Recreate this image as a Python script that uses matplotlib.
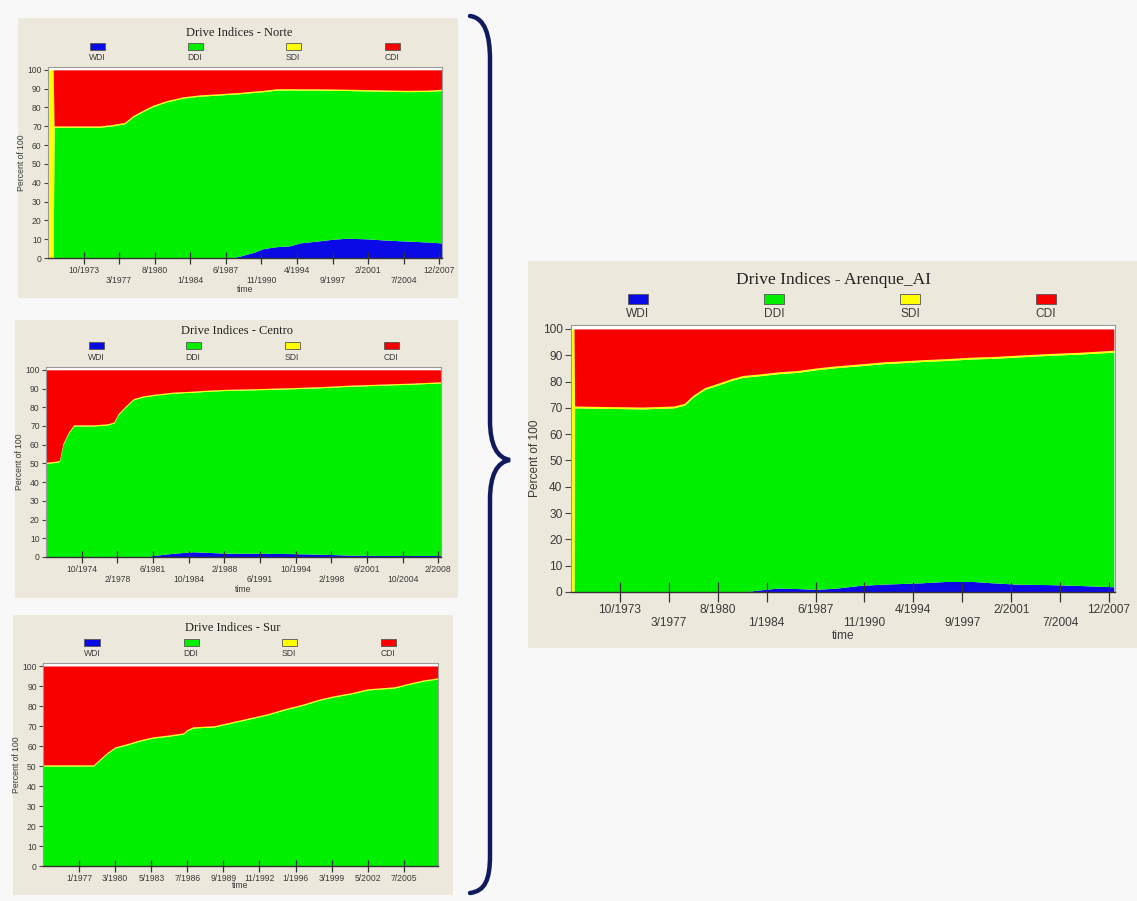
import matplotlib.pyplot as plt
from matplotlib.patches import Rectangle, PathPatch
from matplotlib.path import Path

W, H = 1137, 901

# colours and names of the four drive indices (stack order bottom -> top)
names = ['WDI', 'DDI', 'SDI', 'CDI']
colors = ['#0a0ae6', '#00f000', '#ffff00', '#f80000']
beige = '#ece9dc'
txt = '#3a3a3a'

# Norte, months since 5/1970
norte_t = [0, 6, 7, 30, 60, 75, 88, 98, 110, 121, 137, 156, 175, 194, 210,
           221, 237, 248, 263, 279, 290, 310, 329, 344, 367, 390, 413, 437, 454]
norte_wdi = [0, 0, 0, 0, 0, 0, 0, 0, 0, 0, 0, 0, 0, 0, 0,
             1, 3, 5, 6, 6.5, 8, 9, 10, 10.5, 10.2, 9.5, 9, 8.5, 8]
norte_ddi = [0, 0, 69.5, 69.5, 69.5, 70.3, 71.3, 75, 78, 80.5, 83, 85, 86, 86.5, 87,
             86.3, 85, 83.4, 83.2, 82.8, 81.2, 80.2, 79.1, 78.5, 78.6, 79.1, 79.4, 80, 81]
norte_sdi = [100, 100] + [0.7] * 27
norte_cdi = [0, 0, 29.8, 29.8, 29.8, 29.0, 28.0, 24.3, 21.3, 18.8, 16.3, 14.3, 13.3, 12.8, 12.3,
             12.0, 11.3, 10.9, 10.1, 10.0, 10.1, 10.1, 10.2, 10.3, 10.5, 10.7, 10.9, 10.8, 10.3]
norte_labels = ['10/1973', '3/1977', '8/1980', '1/1984', '6/1987', '11/1990',
                '4/1994', '9/1997', '2/2001', '7/2004', '12/2007']

# Centro, months since 6/1971
centro_t = [0, 10, 15, 19, 25, 31, 53, 68, 76, 81, 89, 98, 109,
            124, 143, 165, 180, 203, 240, 277, 307, 341, 378, 410, 443]
centro_wdi = [0, 0, 0, 0, 0, 0, 0, 0, 0, 0, 0, 0, 0,
              1, 2, 2.8, 2.5, 2, 2, 1.8, 1.5, 1, 0.8, 0.8, 0.8]
centro_ddi = [50, 50.5, 51, 60, 66, 70, 70, 70.5, 71.5, 76, 80, 84, 85.5,
              85.5, 85.5, 85.2, 86, 87, 87.4, 88.1, 88.9, 90.2, 91, 91.5, 92.2]
centro_sdi = [0.6] * 25
centro_cdi = [49.4, 48.9, 48.4, 39.4, 33.4, 29.4, 29.4, 28.9, 27.9, 23.4, 19.4, 15.4, 13.9,
              12.9, 11.9, 11.4, 10.9, 10.4, 10.0, 9.5, 9.0, 8.2, 7.6, 7.1, 6.4]
centro_labels = ['10/1974', '2/1978', '6/1981', '10/1984', '2/1988', '6/1991',
                 '10/1994', '2/1998', '6/2001', '10/2004', '2/2008']

# Sur, months since 11/1973
sur_t = [0, 53, 60, 67, 76, 88, 102, 116, 134, 148, 151, 158, 180,
         194, 222, 236, 254, 271, 292, 306, 324, 342, 370, 387, 401, 416]
sur_wdi = [0] * 26
sur_ddi = [50, 50, 53, 56, 59, 60.5, 62.5, 64, 65, 66, 67.5, 69, 69.5,
           71, 74, 75.5, 78, 80, 83, 84.5, 86, 88, 89, 91, 92.5, 93.5]
sur_sdi = [0.6] * 26
sur_cdi = [49.4, 49.4, 46.4, 43.4, 40.4, 38.9, 36.9, 35.4, 34.4, 33.4, 31.9, 30.4, 29.9,
           28.4, 25.4, 23.9, 21.4, 19.4, 16.4, 14.9, 13.4, 11.4, 10.4, 8.4, 6.9, 5.9]
sur_labels = ['1/1977', '3/1980', '5/1983', '7/1986', '9/1989', '11/1992',
              '1/1996', '3/1999', '5/2002', '7/2005']

# Arenque_AI (whole field), months since 5/1970
aren_t = [0, 2.5, 3, 60, 86, 95, 102, 112, 122, 135, 144, 158, 174, 190,
          206, 223, 242, 262, 275, 294, 314, 337, 353, 373, 402, 425, 455]
aren_wdi = [0, 0, 0, 0, 0, 0, 0, 0, 0, 0, 0, 0.8, 1.5, 1.3,
            1, 1.5, 2.5, 3, 3.2, 3.5, 4, 4, 3.5, 3, 2.8, 2.5, 2]
aren_ddi = [0, 0, 70, 69.6, 70, 71, 74, 77, 78.5, 80.5, 81.6, 81.4, 81.5, 82.2,
            83.5, 83.8, 83.5, 83.8, 83.9, 84.1, 84, 84.6, 85.3, 86.3, 87.2, 87.9, 89.2]
aren_sdi = [100, 100] + [0.7] * 25
aren_cdi = [0, 0, 29.3, 29.7, 29.3, 28.3, 25.3, 22.3, 20.8, 18.8, 17.7, 17.1, 16.3, 15.8,
            14.8, 14.0, 13.3, 12.5, 12.2, 11.7, 11.3, 10.7, 10.5, 10.0, 9.3, 8.9, 8.1]


def fx(x):
    return x / W


def fy(y):
    return 1 - y / H


def draw_panel(fig, title, box, plot, title_x, title_y, leg_x, leg_y, leg_w, leg_h, leg_dy,
               t, series, labels, step, xmax, fs, tfs, tick_len, two_rows=True, time_dy=31):
    # beige panel background
    x0, y0, x1, y1 = box
    fig.add_artist(Rectangle((fx(x0), fy(y1)), (x1 - x0) / W, (y1 - y0) / H,
                             transform=fig.transFigure, facecolor=beige,
                             edgecolor='none', zorder=-1))
    fig.text(fx(title_x), fy(title_y), title, ha='center', va='center',
             fontsize=tfs, family='Liberation Serif', color='#222222')

    # legend: coloured box with name under it
    for i in range(4):
        fig.add_artist(Rectangle((fx(leg_x[i] - leg_w / 2), fy(leg_y + leg_h / 2)),
                                 leg_w / W, leg_h / H, transform=fig.transFigure,
                                 facecolor=colors[i], edgecolor='#555555',
                                 linewidth=0.6, zorder=1))
        fig.text(fx(leg_x[i]), fy(leg_y + leg_dy), names[i],
                 ha='center', va='center', fontsize=fs, color=txt,
                 family='Liberation Sans')

    l, tp, r, b = plot
    ax = fig.add_axes([fx(l), fy(b), (r - l) / W, (b - tp) / H])
    ax.set_facecolor('white')
    ax.stackplot(t, *series, colors=colors, linewidth=0, edgecolor='face')
    ax.set_xlim(0, xmax)
    ax.set_ylim(0, 101.5)

    ax.set_yticks(range(0, 101, 10))
    ax.set_xticks([step * (i + 1) for i in range(len(labels))])
    if two_rows:
        # every second date goes on a lower line
        ax.set_xticklabels([lab if i % 2 == 0 else '\n' + lab for i, lab in enumerate(labels)],
                           linespacing=1.1)
    else:
        ax.set_xticklabels(labels)
    ax.tick_params(axis='x', direction='inout', length=tick_len, width=0.9,
                   color='#333333', labelsize=fs, labelcolor=txt, pad=1.5)
    ax.tick_params(axis='y', direction='out', length=tick_len / 3, width=0.8,
                   color='#444444', labelsize=fs, labelcolor=txt, pad=1.5)
    for lab in ax.get_xticklabels() + ax.get_yticklabels():
        lab.set_family('Liberation Sans')
    for s in ax.spines.values():
        s.set_color('#999999')
        s.set_linewidth(0.8)
    ax.spines['bottom'].set_color('#333333')
    ax.spines['bottom'].set_linewidth(1.0)

    ax.set_xlabel('time', fontsize=fs, color=txt, family='Liberation Sans')
    ax.set_ylabel('Percent of 100', fontsize=fs, color=txt, family='Liberation Sans')
    hpx = b - tp
    wpx = r - l
    ax.xaxis.set_label_coords(0.5, -time_dy / hpx)
    ax.xaxis.label.set_va('center')
    ax.yaxis.set_label_coords(-(fs * 4.2) / wpx, 0.5)
    ax.yaxis.label.set_va('center')
    return ax


fig = plt.figure(figsize=(W / 100, H / 100), dpi=100)
fig.patch.set_facecolor('#f8f8f8')

draw_panel(fig, 'Drive Indices - Norte', (18, 18, 458, 298), (48, 67, 442, 258),
           239, 33, [97, 195, 293, 392], 46, 15, 7, 12,
           norte_t, [norte_wdi, norte_ddi, norte_sdi, norte_cdi], norte_labels, 41, 454,
           6.2, 9, 9, time_dy=32)
draw_panel(fig, 'Drive Indices - Centro', (15, 320, 458, 598), (46, 367, 441, 557),
           237, 331, [96, 193, 292, 391], 345, 15, 7, 12,
           centro_t, [centro_wdi, centro_ddi, centro_sdi, centro_cdi], centro_labels, 40, 443,
           6.2, 9, 9, time_dy=32)
draw_panel(fig, 'Drive Indices - Sur', (13, 615, 453, 895), (43, 663, 438, 866),
           233, 628, [92, 191, 289, 388], 642, 15, 7, 12,
           sur_t, [sur_wdi, sur_ddi, sur_sdi, sur_cdi], sur_labels, 38, 416,
           6.2, 9, 9, two_rows=False, time_dy=20)
draw_panel(fig, 'Drive Indices - Arenque_AI', (528, 261, 1137, 648), (571, 325, 1115, 592),
           833, 280, [638, 774, 910, 1046], 299, 20, 10, 15,
           aren_t, [aren_wdi, aren_ddi, aren_sdi, aren_cdi], norte_labels, 41, 456,
           8.6, 12.5, 14, time_dy=44)

# big curly brace joining the three zones to the whole field
pts = [(470, 16), (485, 18), (490, 35), (490, 60),
       (490, 420),
       (490, 445), (497, 458), (510, 460),
       (497, 462), (490, 475), (490, 500),
       (490, 855),
       (490, 880), (485, 891), (470, 893)]
codes = [Path.MOVETO, Path.CURVE4, Path.CURVE4, Path.CURVE4,
         Path.LINETO,
         Path.CURVE4, Path.CURVE4, Path.CURVE4,
         Path.CURVE4, Path.CURVE4, Path.CURVE4,
         Path.LINETO,
         Path.CURVE4, Path.CURVE4, Path.CURVE4]
brace = Path([(fx(x), fy(y)) for x, y in pts], codes)
fig.add_artist(PathPatch(brace, transform=fig.transFigure, facecolor='none',
                         edgecolor='#101a5c', linewidth=3.2, capstyle='round'))

plt.savefig('out.png', dpi=100, facecolor=fig.get_facecolor())
